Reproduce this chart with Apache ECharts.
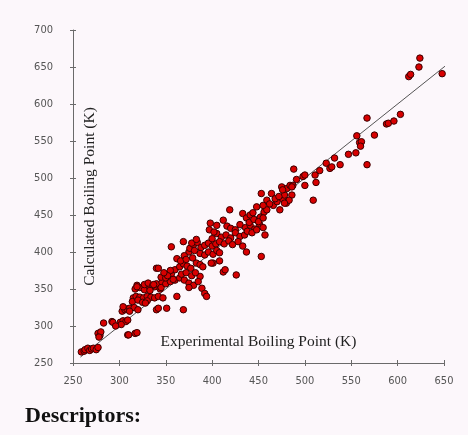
<!DOCTYPE html>
<html>
<head>
<meta charset="utf-8">
<script src="https://cdn.jsdelivr.net/npm/echarts@6/dist/echarts.min.js"></script>
<style>
  html, body { margin: 0; padding: 0; background: #fcf7fb; }
  #chart { width: 468px; height: 435px; }
</style>
</head>
<body>
<div id="chart"></div>
<script>
// experimental vs calculated boiling points (K)
var lowPoints = [
  [259,265],[262,266],[263,268],[266,270],[268,267],[270,269],[272,270],[275,268],[277,271],
  [277,290],[279,287],[280,292],[278,285],
  [283,304],[292,306],[293,305],[301,305],[304,307],[307,306],[309,308],[302,302],[296,300],
  [309,288],[310,288],[317,290],[319,291],
  [303,320],[306,322],[308,323],[311,324],[316,325],[320,322],[304,326],[311,320]
];
var midPoints = [
  [315,338],[318,340],[322,339],[326,338],[330,340],[334,339],[338,338],[342,340],[347,338],
  [314,333],[320,335],[325,332],[330,334],[328,331],
  [317,350],[322,352],[327,349],[333,351],[338,353],[344,350],[319,355],[327,356],[331,358],[336,355],[340,357],[346,359],
  [319,353],[340,322],[342,324],[351,324],[369,322],
  [333,348],[337,356],[345,352],[350,357],[355,360],[360,362],[365,365],[370,362],[375,358],[380,355],
  [340,378],[342,378],[345,366],[350,365],[356,370],[362,391],[360,376],[365,380],[369,384],[373,381],[377,378],[383,385],[387,383],[390,380],
  [387,367],[389,351],[392,344],[394,340],[362,340],
  [355,375],[352,368],[348,372],[358,363],[367,370],[372,372],[378,368],[382,372],[385,360],[375,352],
  [356,407],[369,414],[375,400],[376,405],[380,410],[384,413],[388,406],[392,409],[396,412],[400,408],[404,411],[378,412],[383,417],
  [387,398],[392,396],[396,400],[401,397],[405,402],[408,399],[381,402],[370,395],[366,388],[372,390],[379,392],
  [398,439],[405,436],[412,443],[416,435],[420,432],[425,430],[430,437],[436,433],[441,436],[446,431],[451,438],[455,433],
  [405,425],[410,420],[415,423],[420,419],[425,426],[430,421],[400,418],[408,414],[413,411],[418,415],[397,430],[402,427],
  [401,385],[408,388],[399,385],[412,373],[414,376],[426,369],[437,400],[453,394],[435,423],[457,423],
  [419,457],[433,452],[437,446],[441,450],[444,453],[448,461],[452,447],[456,454],[459,457],
  [440,440],[445,444],[450,441],[455,446],[438,428],[443,426],[448,430],[422,410],[428,414],[433,408]
];
var highPoints = [
  [453,479],[464,479],[459,470],[466,463],[455,463],[473,457],[470,468],[476,472],[480,466],[478,477],[486,477],
  [475,488],[481,486],[484,490],[487,490],[488,512],[462,465],[468,472],[483,470],[472,475],[476,484],[478,466],[486,488],
  [491,498],[498,502],[500,504],[500,490],[509,470],[511,504],[512,494],[516,510],[523,520],[527,513],[529,515],
  [532,527],[538,518],[547,532],[555,534],[556,557],[559,548],[561,549],[560,543],[567,518],[567,581],[575,558],
  [588,573],[590,574],[596,577],[603,586],[612,637],[614,640],[623,650],[624,662],[648,641]
];
var fitLine = [[258,258],[660,660]];
var xTicks = [250, 650, 50];
var yTicks = [250, 700, 50];

var points = lowPoints.concat(midPoints, highPoints);
var chart = echarts.init(document.getElementById('chart'));
var tickFont = 'Liberation Sans Narrow, DejaVu Sans Condensed, sans-serif';
var axisCol = '#6a6a6a';

function valueAxis(range, extra) {
  var a = {
    type: 'value', min: range[0], max: range[1], interval: range[2],
    splitLine: { show: false },
    axisLine: { show: true, onZero: false, lineStyle: { color: axisCol, width: 1 } },
    axisTick: { show: true, length: 3, lineStyle: { color: axisCol } },
    axisLabel: { color: '#555', fontSize: 11, fontFamily: tickFont }
  };
  return Object.assign(a, extra);
}

var option = {
  backgroundColor: '#fcf7fb',
  animation: false,
  grid: { left: 73, right: 24, top: 30, bottom: 72 },
  xAxis: [
    valueAxis(xTicks, {
      name: 'Experimental Boiling Point (K)',
      nameLocation: 'middle', nameGap: -29,
      nameTextStyle: { fontFamily: 'Liberation Serif, serif', fontSize: 15.5, color: '#222' },
      axisLabel: { color: '#555', fontSize: 11, fontFamily: tickFont, margin: 13 }
    }),
    valueAxis(xTicks, {
      position: 'bottom', axisLine: { show: false },
      axisTick: { show: true, inside: true, length: 3, lineStyle: { color: axisCol } },
      axisLabel: { show: false }
    })
  ],
  yAxis: [
    valueAxis(yTicks, {
      name: 'Calculated Boiling Point (K)',
      nameLocation: 'middle', nameGap: -25, nameRotate: 90,
      nameTextStyle: { fontFamily: 'Liberation Serif, serif', fontSize: 15.5, color: '#222' },
      axisLabel: { color: '#555', fontSize: 11, fontFamily: tickFont, margin: 20 }
    }),
    valueAxis(yTicks, {
      position: 'left', axisLine: { show: false },
      axisTick: { show: true, inside: true, length: 3, lineStyle: { color: axisCol } },
      axisLabel: { show: false }
    })
  ],
  graphic: [{
    type: 'text', left: 25, top: 405,
    style: { text: 'Descriptors:', font: 'bold 22px "Liberation Serif", serif', fill: '#111' }
  }],
  series: [
    {
      type: 'line', data: fitLine, symbol: 'none', clip: false,
      lineStyle: { color: '#555', width: 1 }, z: 1
    },
    {
      type: 'scatter', data: points, symbol: 'circle', symbolSize: 6.5,
      itemStyle: { color: '#d80000', borderColor: '#3a0000', borderWidth: 1, opacity: 1 }, z: 2
    }
  ]
};
chart.setOption(option);
</script>
</body>
</html>
